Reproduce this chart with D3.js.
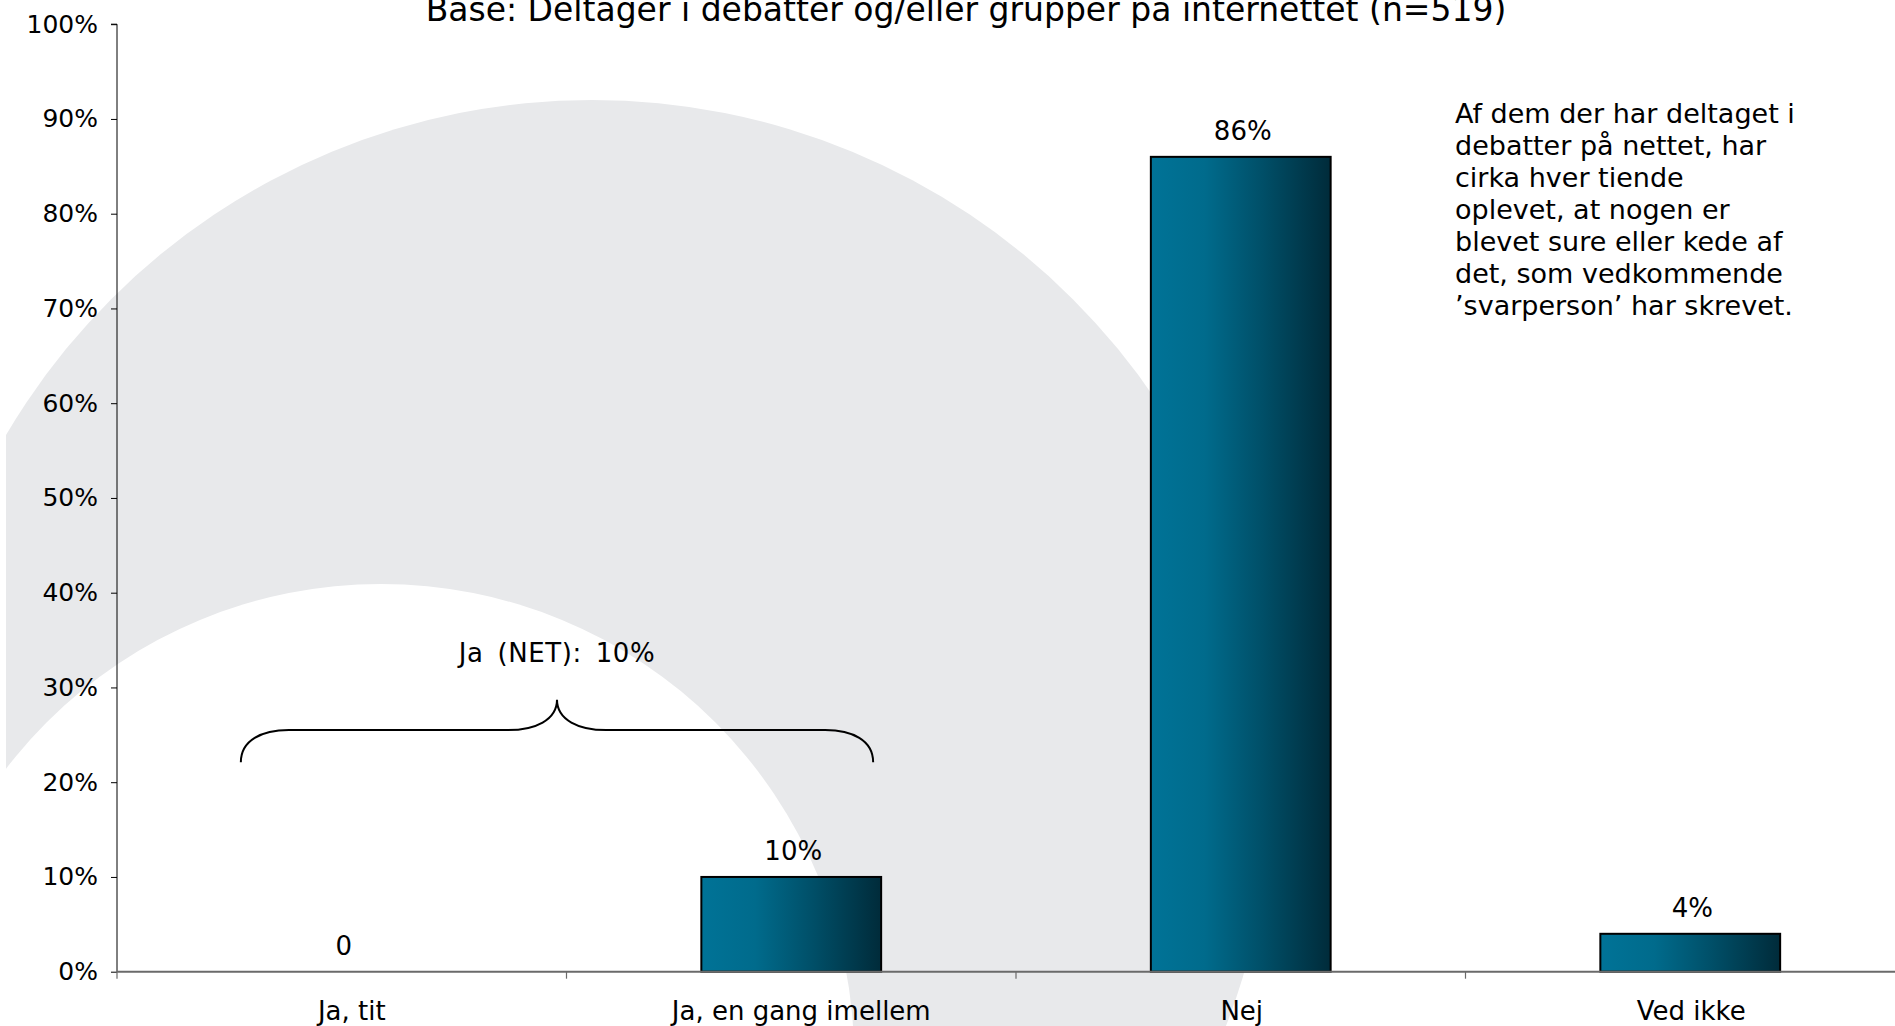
<!DOCTYPE html>
<html>
<head>
<meta charset="utf-8">
<script src="https://cdn.jsdelivr.net/npm/d3@7"></script>
<style>
  html, body { margin: 0; padding: 0; background: #fff; }
  svg { display: block; }
  text { font-family: "DejaVu Sans", Verdana, sans-serif; fill: #000; }
</style>
</head>
<body>
<svg id="chart" width="1895" height="1026"></svg>
<script>
// Survey answers (share of respondents)
const categories = ["Ja, tit", "Ja, en gang imellem", "Nej", "Ved ikke"];
const shares = [0, 0.10, 0.86, 0.04];
const shareLabels = ["0", "10%", "86%", "4%"];
const yTicks = [0, 0.1, 0.2, 0.3, 0.4, 0.5, 0.6, 0.7, 0.8, 0.9, 1.0];
const netLabel = "Ja (NET): 10%";
const title = "Base: Deltager i debatter og/eller grupper på internettet (n=519)";
const note = [
  "Af dem der har deltaget i",
  "debatter på nettet, har",
  "cirka hver tiende",
  "oplevet, at nogen er",
  "blevet sure eller kede af",
  "det, som vedkommende",
  "\u2019svarperson\u2019 har skrevet."
];

const W = 1895, H = 1026;
const svg = d3.select("#chart");

// Watermark: a large grey crescent behind the plot
const defs = svg.append("defs");
defs.append("clipPath").attr("id", "bgClip")
  .append("rect").attr("x", 6).attr("y", 0).attr("width", W - 6).attr("height", H);
const bg = svg.append("g").attr("clip-path", "url(#bgClip)");
bg.append("circle").attr("cx", 592).attr("cy", 780).attr("r", 680).attr("fill", "#e8e9eb");
bg.append("circle").attr("cx", 381).attr("cy", 1057).attr("r", 473).attr("fill", "#ffffff");

// Scales
const x = d3.scaleBand()
  .domain(categories)
  .range([117, 1915])
  .paddingInner(0.6)
  .paddingOuter(0.3);
const y = d3.scaleLinear().domain([0, 1]).range([971.7, 24.2]);

// Bar gradient
const grad = defs.append("linearGradient").attr("id", "barGrad")
  .attr("x1", "0%").attr("x2", "100%").attr("y1", "0%").attr("y2", "0%");
[["0%", "#007397"], ["30%", "#006b8c"], ["62%", "#004f68"], ["100%", "#002b3a"]]
  .forEach(([o, c]) => grad.append("stop").attr("offset", o).attr("stop-color", c));

// Title
svg.append("text")
  .attr("x", 966).attr("y", 21)
  .attr("text-anchor", "middle")
  .attr("font-size", 33)
  .text(title);

// Y axis
const yAxis = svg.append("g")
  .attr("transform", "translate(117,0)")
  .call(d3.axisLeft(y).tickValues(yTicks).tickFormat(d3.format(".0%")).tickSize(6).tickPadding(13));
yAxis.selectAll("text").attr("font-size", 25).attr("font-family", "DejaVu Sans, Verdana, sans-serif").attr("fill", "#000");
yAxis.selectAll("line").attr("stroke", "#000");
yAxis.select(".domain").attr("stroke", "#000").attr("d", `M-6,${y(1)}H0V${y(0)}`);

// Bars
const data = categories.map((c, i) => ({ c, v: shares[i], label: shareLabels[i] }));
svg.append("g").selectAll("rect")
  .data(data.filter(d => d.v > 0))
  .join("rect")
  .attr("x", d => x(d.c))
  .attr("y", d => y(d.v))
  .attr("width", x.bandwidth())
  .attr("height", d => y(0) - y(d.v))
  .attr("fill", "url(#barGrad)")
  .attr("stroke", "#000")
  .attr("stroke-width", 2);

// X axis: baseline, category separators and labels
const step = x.step();
const x0 = x.range()[0];
const xAxis = svg.append("g");
xAxis.append("line")
  .attr("x1", x0).attr("x2", W)
  .attr("y1", y(0)).attr("y2", y(0))
  .attr("stroke", "#6a6a6a").attr("stroke-width", 2);
xAxis.selectAll("line.sep")
  .data(d3.range(categories.length))
  .join("line").attr("class", "sep")
  .attr("x1", i => x0 + i * step).attr("x2", i => x0 + i * step)
  .attr("y1", y(0)).attr("y2", y(0) + 7)
  .attr("stroke", "#6a6a6a").attr("stroke-width", 1.2);
xAxis.selectAll("text")
  .data(categories)
  .join("text")
  .attr("x", d => x(d) + x.bandwidth() / 2)
  .attr("dx", (d, i) => (i < 2 ? 10 : 1))
  .attr("y", 1020)
  .attr("text-anchor", "middle")
  .attr("font-size", 26)
  .text(d => d);

// Value labels
svg.append("g").selectAll("text")
  .data(data)
  .join("text")
  .attr("x", d => x(d.c) + x.bandwidth() / 2)
  .attr("dx", 2)
  .attr("y", d => y(d.v) - 17)
  .attr("text-anchor", "middle")
  .attr("font-size", 26)
  .text(d => d.label);

// Brace grouping the two "Ja" answers
const bl = x(categories[0]) - 11;
const br = x(categories[1]) + x.bandwidth() - 8;
const bm = (bl + br) / 2;
const yEnd = y(0.221), yBar = y(0.255), yTip = y(0.287);
const brace = d3.path();
brace.moveTo(bl, yEnd);
brace.bezierCurveTo(bl, yEnd - 22, bl + 21, yBar, bl + 48, yBar);
brace.lineTo(bm - 49, yBar);
brace.bezierCurveTo(bm - 22, yBar, bm, yBar - 10, bm, yTip);
brace.bezierCurveTo(bm, yBar - 10, bm + 22, yBar, bm + 49, yBar);
brace.lineTo(br - 48, yBar);
brace.bezierCurveTo(br - 21, yBar, br, yEnd - 22, br, yEnd);
svg.append("path")
  .attr("d", brace.toString())
  .attr("fill", "none")
  .attr("stroke", "#000")
  .attr("stroke-width", 2);
svg.append("text")
  .attr("x", bm).attr("y", y(0.327))
  .attr("text-anchor", "middle")
  .attr("font-size", 26)
  .attr("word-spacing", 5)
  .attr("letter-spacing", 0.6)
  .text(netLabel);

// Side note
svg.append("text")
  .attr("font-size", 27)
  .selectAll("tspan")
  .data(note)
  .join("tspan")
  .attr("x", 1455)
  .attr("y", (d, i) => 123 + i * 32)
  .text(d => d);
</script>
</body>
</html>
